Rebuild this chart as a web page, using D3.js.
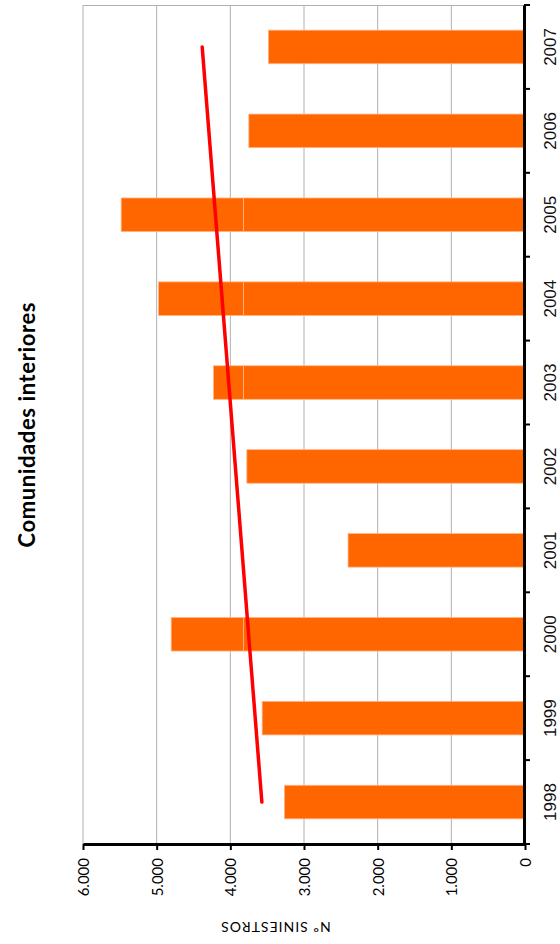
<!DOCTYPE html>
<html><head><meta charset="utf-8">
<script src="https://cdn.jsdelivr.net/npm/d3@7"></script>
<style>body{margin:0;background:#fff}svg{display:block}</style>
</head><body>
<svg id="c" width="560" height="944"></svg>
<script>
const years = ["1998","1999","2000","2001","2002","2003","2004","2005","2006","2007"];
const siniestros = [3266, 3568, 4803, 2402, 3776, 4229, 4975, 5482, 3749, 3483];
const splitValue = 3822;
const trendYears = ["1998","2007"];
const trendValues = [3572, 4382];
const valueTicks = [0, 1000, 2000, 3000, 4000, 5000, 6000];
const titleText = "Comunidades interiores";
const axisTitle = "Nº SINIESTROS";

(function () {
const svg = d3.select("#c");
const pL = 83, pR = 524, pT = 5, pB = 844;

const x = d3.scaleLinear().domain([0, 6000]).range([pR + 1, pL]);
const y = d3.scaleBand().domain(years.slice().reverse()).range([pT, pB])
  .paddingInner(0.6).paddingOuter(0.3);

const fmt = d3.formatLocale({decimal: ",", thousands: ".", grouping: [3], currency: ["", ""]}).format(",");

// gridlines
svg.append("g").selectAll("line").data(valueTicks.filter(v => v > 0))
  .join("line")
  .attr("x1", d => x(d)).attr("x2", d => x(d))
  .attr("y1", pT).attr("y2", pB)
  .attr("stroke", "#b0b0b0").attr("stroke-width", 1);
svg.append("line").attr("x1", pL).attr("x2", pR).attr("y1", pT + 0.5).attr("y2", pT + 0.5)
  .attr("stroke", "#b0b0b0").attr("stroke-width", 1);

// bars (two segments, split line)
const data = years.map((yr, i) => ({yr, v: siniestros[i]}));
const segs = [];
data.forEach(d => {
  segs.push({yr: d.yr, a: 0, b: Math.min(d.v, splitValue)});
  if (d.v > splitValue) segs.push({yr: d.yr, a: splitValue, b: d.v});
});
svg.append("g").selectAll("rect").data(segs).join("rect")
  .attr("x", d => x(d.b)).attr("width", d => x(d.a) - x(d.b))
  .attr("y", d => y(d.yr)).attr("height", y.bandwidth())
  .attr("fill", "#FF6600").attr("stroke", "#ffb58a").attr("stroke-width", 0.8);

// trend line
svg.append("line")
  .attr("x1", x(trendValues[0])).attr("y1", y(trendYears[0]) + y.bandwidth() / 2)
  .attr("x2", x(trendValues[1])).attr("y2", y(trendYears[1]) + y.bandwidth() / 2)
  .attr("stroke", "#FF0000").attr("stroke-width", 3.5).attr("stroke-linecap", "round");

// bottom value axis
const xAxis = d3.axisBottom(x).tickValues(valueTicks).tickFormat(fmt).tickSize(6).tickSizeOuter(0);
const gx = svg.append("g").attr("transform", `translate(0,${pB})`).call(xAxis);
gx.select(".domain").attr("stroke", "#000").attr("stroke-width", 3);
gx.selectAll(".tick line").attr("stroke", "#000").attr("stroke-width", 2);
gx.selectAll(".tick text")
  .attr("font-family", "Lato, 'Open Sans', sans-serif").attr("font-size", 15).attr("fill", "#000")
  .attr("text-anchor", "end")
  .attr("transform", "translate(0,14) rotate(-90)")
  .attr("x", 0).attr("y", 0).attr("dy", "0.36em");

// right category axis
const yAxis = d3.axisRight(y).tickSize(0).tickSizeOuter(0).tickPadding(0);
const gy = svg.append("g").attr("transform", `translate(${pR},0)`).call(yAxis);
gy.select(".domain").attr("stroke", "#000").attr("stroke-width", 3);
gy.selectAll(".tick text")
  .attr("font-family", "'Liberation Sans Narrow', 'Liberation Sans', Arial, sans-serif")
  .attr("font-size", 17).attr("fill", "#111")
  .attr("text-anchor", "middle")
  .attr("x", 0).attr("dy", 0)
  .attr("transform", "translate(32,0) rotate(-90)");
const gap = (y.step() - y.bandwidth()) / 2;
const dom = y.domain();
const bounds = dom.map(d => y(d) - gap).concat([y(dom[dom.length - 1]) + y.bandwidth() + gap]);
gy.append("g").selectAll("line").data(bounds).join("line")
  .attr("x1", 0).attr("x2", 6).attr("y1", d => d).attr("y2", d => d)
  .attr("stroke", "#000").attr("stroke-width", 2);

// title
svg.append("text").text(titleText)
  .attr("transform", `translate(35,425) rotate(-90)`)
  .attr("text-anchor", "middle")
  .attr("font-family", "Lato, sans-serif").attr("font-weight", "bold").attr("font-size", 22)
  .attr("textLength", 245).attr("lengthAdjust", "spacing")
  .attr("fill", "#000");

// axis title (upside down)
svg.append("text").text(axisTitle)
  .attr("transform", `translate(275.5,922) rotate(180)`)
  .attr("text-anchor", "middle")
  .attr("font-family", "Lato, sans-serif").attr("font-size", 14).attr("letter-spacing", 1)
  .attr("fill", "#000");
})();
</script>
</body></html>
